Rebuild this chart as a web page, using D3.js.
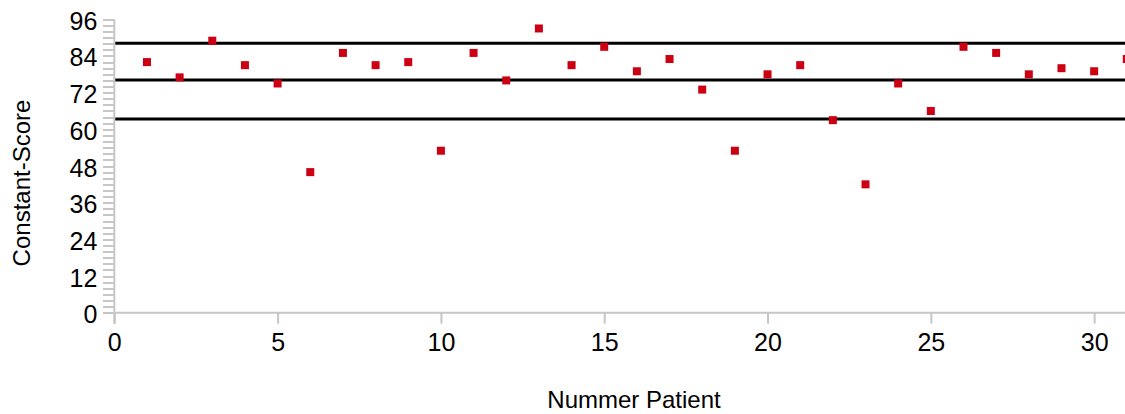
<!DOCTYPE html>
<html>
<head>
<meta charset="utf-8">
<script src="https://cdn.jsdelivr.net/npm/d3@7"></script>
<style>
  html, body { margin: 0; padding: 0; background: #fff; }
  svg { display: block; font-family: "Liberation Sans", Arial, sans-serif; }
</style>
</head>
<body>
<svg id="chart" width="1125" height="414"></svg>
<script>
// Patient numbers and their Constant scores
const patients = d3.range(1, 32);
const scores = [82, 77, 89, 81, 75, 46, 85, 81, 82, 53,
                85, 76, 93, 81, 87, 79, 83, 73, 53, 78,
                81, 63, 42, 75, 66, 87, 85, 78, 80, 79, 83];
// Horizontal reference levels (upper, mean, lower)
const refLevels = [88.2, 76.1, 63.4];
// Axis ticks
const yLabelTicks = [0, 12, 24, 36, 48, 60, 72, 84, 96];
const yMinorTicks = d3.range(0, 97, 2);
const xTicks = [0, 5, 10, 15, 20, 25, 30];

const svg = d3.select("#chart");

const x = d3.scaleLinear().domain([0, 31]).range([114.3, 1126.8]);
const y = d3.scaleLinear().domain([0, 96]).range([312.7, 19.3]);

const axisColor = "#c6c6c6";
const labelFont = "Liberation Sans, Arial, sans-serif";

// Minor ticks on the y axis
svg.append("g")
  .attr("transform", `translate(${x(0)},0)`)
  .call(d3.axisLeft(y).tickValues(yMinorTicks).tickSize(11).tickFormat(""))
  .call(g => g.select(".domain").remove())
  .call(g => g.selectAll("line").attr("stroke", axisColor).attr("stroke-width", 2).attr("shape-rendering", "crispEdges"));

// y tick labels
svg.append("g")
  .attr("transform", `translate(${x(0)},0)`)
  .call(d3.axisLeft(y).tickValues(yLabelTicks).tickSize(0).tickPadding(17))
  .call(g => g.select(".domain").remove())
  .call(g => g.selectAll("text")
    .attr("fill", "#000")
    .attr("font-size", 25)
    .attr("font-family", labelFont)
    .attr("dy", "0.4em"));

// x axis
svg.append("g")
  .attr("transform", `translate(0,${y(0)})`)
  .call(d3.axisBottom(x).tickValues(xTicks).tickSize(11).tickPadding(10))
  .call(g => g.select(".domain").remove())
  .call(g => g.selectAll("line").attr("stroke", axisColor).attr("stroke-width", 2))
  .call(g => g.selectAll("text")
    .attr("fill", "#000")
    .attr("font-size", 25)
    .attr("font-family", labelFont));

// Axis lines
svg.append("line")
  .attr("x1", x(0)).attr("x2", 1125)
  .attr("y1", y(0)).attr("y2", y(0))
  .attr("stroke", axisColor).attr("stroke-width", 2);
svg.append("line")
  .attr("x1", x(0)).attr("x2", x(0))
  .attr("y1", y(96)).attr("y2", y(0) + 11)
  .attr("stroke", axisColor).attr("stroke-width", 2);

// Reference lines
svg.append("g").selectAll("line")
  .data(refLevels)
  .join("line")
  .attr("x1", x(0) + 1).attr("x2", 1125)
  .attr("y1", d => y(d)).attr("y2", d => y(d))
  .attr("stroke", "#000").attr("stroke-width", 3);

// Score markers
const size = 8;
svg.append("g").selectAll("rect")
  .data(patients.map((p, i) => ({ p, s: scores[i] })))
  .join("rect")
  .attr("x", d => x(d.p) - size / 2)
  .attr("y", d => y(d.s) - size / 2)
  .attr("width", size).attr("height", size)
  .attr("fill", "#cc0012");

// Axis titles
svg.append("text")
  .attr("x", 634).attr("y", 408)
  .attr("text-anchor", "middle")
  .attr("font-size", 24)
  .attr("fill", "#000")
  .text("Nummer Patient");

svg.append("text")
  .attr("transform", "translate(30,183) rotate(-90)")
  .attr("text-anchor", "middle")
  .attr("font-size", 24)
  .attr("fill", "#000")
  .text("Constant-Score");
</script>
</body>
</html>
